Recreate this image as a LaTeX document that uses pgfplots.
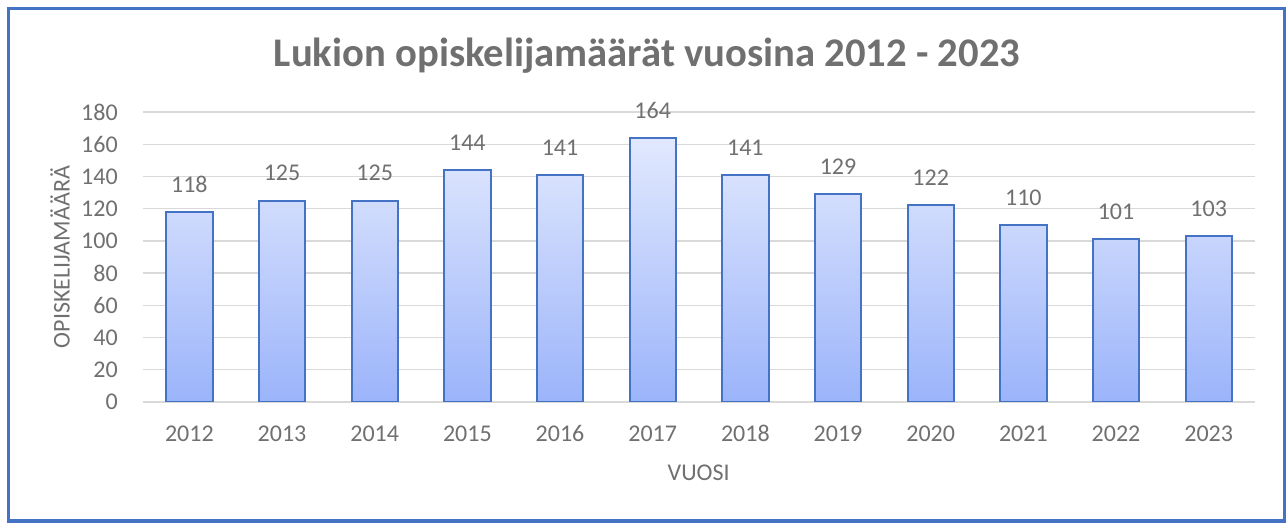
\documentclass[border=0pt]{standalone}
\usepackage{fontspec}
\setmainfont{Carlito}
\usepackage{pgfplots}
\pgfplotsset{compat=1.18}
\definecolor{frameblue}{HTML}{4472C4}
\definecolor{txtgray}{HTML}{707070}
\definecolor{gridgray}{HTML}{D9D9D9}
\definecolor{bartop}{HTML}{E2E9FE}
\definecolor{barbot}{HTML}{9BB4FA}
\begin{document}
\begin{tikzpicture}
\useasboundingbox (0,0) rectangle (965.25pt,392.25pt);
\fill[white] (0,0) rectangle (965.25pt,392.25pt);
\begin{axis}[
  at={(107.25pt,90.75pt)}, anchor=south west,
  scale only axis, width=834pt, height=217.5pt,
  xmin=-0.5, xmax=11.5, ymin=0, ymax=180,
  xtick={0,1,2,3,4,5,6,7,8,9,10,11},
  xticklabels={2012,2013,2014,2015,2016,2017,2018,2019,2020,2021,2022,2023},
  ytick={0,20,40,60,80,100,120,140,160,180},
  /pgf/number format/assume math mode=true,
  axis line style={draw=none},
  tick style={draw=none},
  ymajorgrids, grid style={gridgray, line width=1pt},
  xticklabel style={anchor=base, yshift=-30pt, inner sep=0pt, text=txtgray, font=\fontsize{18}{20}\selectfont},
  yticklabel style={anchor=east, xshift=-18.75pt, inner sep=0pt, text=txtgray, font=\fontsize{18}{20}\selectfont},
  nodes near coords,
  nodes near coords style={anchor=center, yshift=20.5pt, inner sep=0pt, text=txtgray, font=\fontsize{18}{20}\selectfont},
]
\addplot[ybar, bar width=0.5, draw=frameblue, line width=1.5pt, top color=bartop, bottom color=barbot]
coordinates {(0,118) (1,125) (2,125) (3,144) (4,141) (5,164) (6,141) (7,129) (8,122) (9,110) (10,101) (11,103)};
\end{axis}
\node[anchor=base, text=txtgray, font=\fontsize{30.5}{34}\selectfont\bfseries] at (485.25pt,342pt) {Lukion opiskelijamäärät vuosina 2012 - 2023};
\node[anchor=center, text=txtgray, font=\fontsize{18}{20}\selectfont] at (524pt,37.5pt) {VUOSI};
\node[anchor=center, rotate=90, text=txtgray, font=\fontsize{18}{20}\selectfont] at (45pt,199.5pt) {OPISKELIJAMÄÄRÄ};
\draw[frameblue, line width=2.6pt] (6.375pt,1.5pt) rectangle (963.2pt,385.9pt);
\end{tikzpicture}
\end{document}
